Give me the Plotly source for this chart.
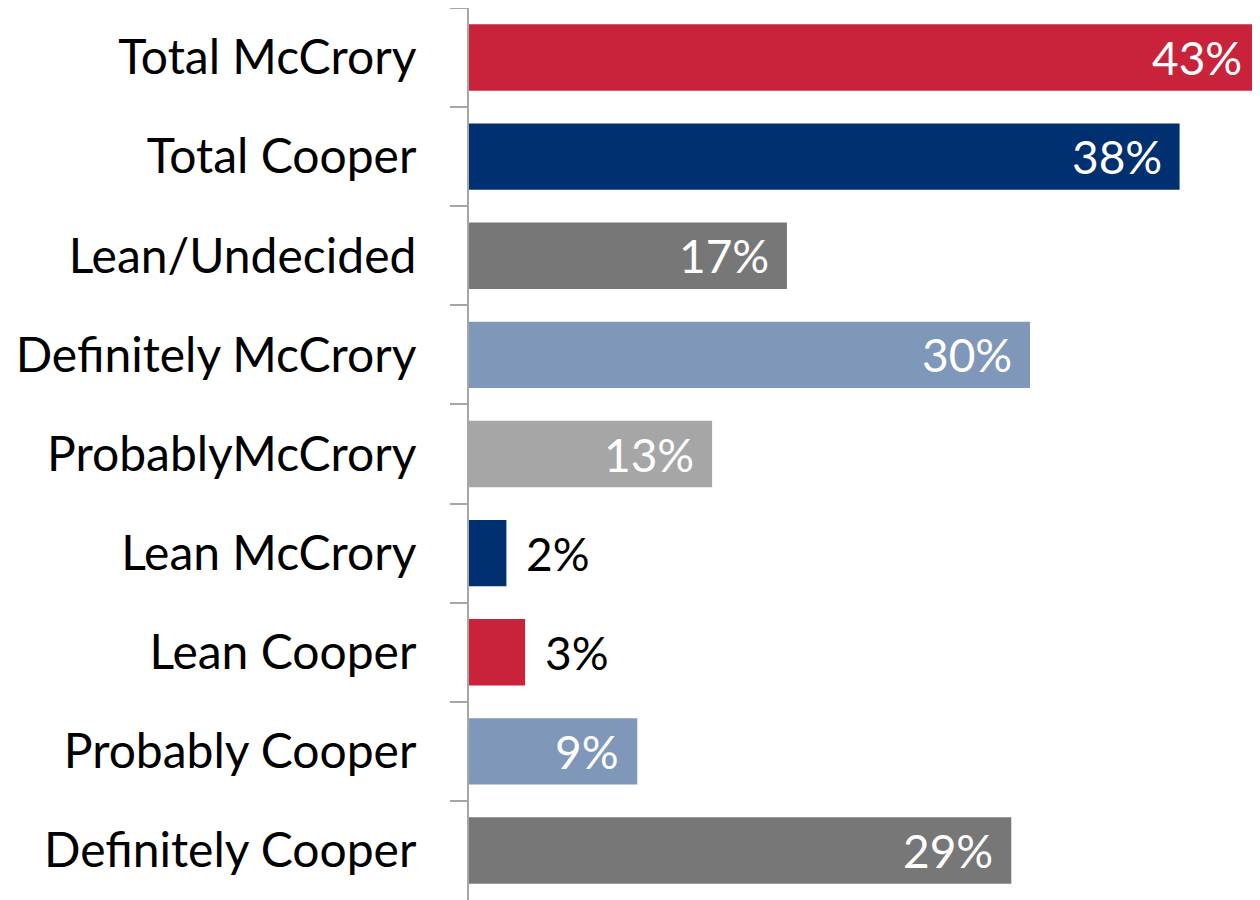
import plotly.graph_objects as go

categories = [
    "Total McCrory",
    "Total Cooper",
    "Lean/Undecided",
    "Definitely McCrory",
    "ProbablyMcCrory",
    "Lean McCrory",
    "Lean Cooper",
    "Probably Cooper",
    "Definitely Cooper",
]
values = [43, 38, 17, 30, 13, 2, 3, 9, 29]
labels = ["43%", "38%", "17%", "30%", "13%", "2%", "3%", "9%", "29%"]
colors = ["#C9233C", "#00306F", "#777777", "#7F97B9", "#A6A6A6",
          "#00306F", "#C9233C", "#7F97B9", "#777777"]

FONT = "Lato"
XMAX = 42.3

fig = go.Figure()

fig.add_trace(go.Bar(
    y=categories,
    x=values,
    orientation="h",
    marker=dict(color=colors, line=dict(width=0)),
    width=0.67,
    hoverinfo="skip",
))

# value labels: inside (white) for long bars, outside (black) for short ones
for cat, v, lab in zip(categories, values, labels):
    inside = v > 5
    fig.add_annotation(
        x=min(v, XMAX),
        y=cat,
        text=lab,
        showarrow=False,
        xanchor="right" if inside else "left",
        xshift=-16 if inside else 18,
        font=dict(family=FONT, size=46, color="white" if inside else "black"),
    )

# page body has an 8px margin, so the figure is 1252x892
fig.update_layout(
    width=1252,
    height=892,
    margin=dict(l=461, r=0, t=0, b=0),
    plot_bgcolor="white",
    paper_bgcolor="white",
    showlegend=False,
    font=dict(family=FONT, size=48, color="black"),
    xaxis=dict(
        range=[0, XMAX],
        visible=False,
        showgrid=False,
        zeroline=False,
    ),
    yaxis=dict(
        autorange="reversed",
        showline=True,
        linecolor="#A6A6A6",
        linewidth=2,
        ticks="outside",
        tickson="boundaries",
        ticklen=17,
        tickwidth=2,
        tickcolor="#A6A6A6",
        showgrid=False,
        ticklabelstandoff=41,
    ),
)

fig.write_html("out.html")
